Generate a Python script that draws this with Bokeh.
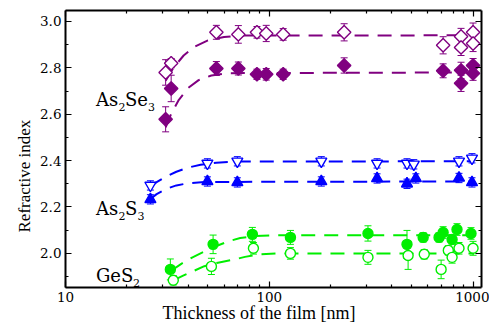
import numpy as np
from bokeh.plotting import figure
from bokeh.models import (ColumnDataSource, Whisker, TeeHead, Label, FixedTicker,
                          LogAxis, LinearAxis, PrintfTickFormatter, Title)
from bokeh.embed import file_html
from bokeh.resources import INLINE

# ---------------- data ----------------
# As2Se3
se_open_x = [31, 33, 55, 70.5, 87, 96.6, 117, 233, 713, 873, 873, 1000, 1000]
se_open_y = [2.78, 2.82, 2.953, 2.944, 2.953, 2.948, 2.944, 2.953, 2.897, 2.935, 2.888, 2.953, 2.905]
se_open_e = [0.055, 0.02, 0.03, 0.038, 0.025, 0.035, 0.025, 0.037, 0.037, 0.035, 0.035, 0.04, 0.035]
se_fill_x = [31, 33, 55, 70.5, 87, 96.6, 117, 233, 713, 873, 873, 1000, 1000]
se_fill_y = [2.578, 2.711, 2.797, 2.797, 2.772, 2.772, 2.772, 2.81, 2.787, 2.789, 2.733, 2.81, 2.776]
se_fill_e = [0.054, 0.057, 0.03, 0.028, 0.022, 0.025, 0.022, 0.033, 0.03, 0.035, 0.035, 0.03, 0.03]
# As2S3
s_open_x = [26.1, 49.7, 69.7, 180, 338, 474, 512, 853, 988]
s_open_y = [2.293, 2.388, 2.397, 2.397, 2.388, 2.388, 2.384, 2.397, 2.41]
s_open_e = [0.02, 0.02, 0.02, 0.02, 0.02, 0.02, 0.02, 0.02, 0.02]
s_fill_x = [26.1, 49.7, 69.7, 180, 338, 474, 524, 853, 988]
s_fill_y = [2.233, 2.31, 2.306, 2.31, 2.323, 2.30, 2.323, 2.325, 2.306]
s_fill_e = [0.02, 0.02, 0.02, 0.02, 0.02, 0.02, 0.02, 0.02, 0.02]
# GeS2
g_fill_x = [32.7, 53, 82.6, 127, 305, 474, 569, 681, 713, 789, 834, 977]
g_fill_y = [1.931, 2.039, 2.082, 2.069, 2.086, 2.039, 2.069, 2.069, 2.09, 2.06, 2.103, 2.086]
g_fill_e = [0.045, 0.04, 0.03, 0.03, 0.033, 0.06, 0.02, 0.02, 0.025, 0.02, 0.025, 0.025]
g_open_x = [33.8, 52, 83.6, 127, 305, 480, 576, 697, 756, 789, 853, 1000]
g_open_y = [1.884, 1.944, 2.022, 2.0, 1.983, 1.991, 1.996, 1.931, 2.013, 1.983, 2.022, 2.022]
g_open_e = [0.02, 0.035, 0.025, 0.025, 0.03, 0.06, 0.02, 0.04, 0.02, 0.025, 0.025, 0.03]

# dashed fit curves
fit_se_open_x = [31, 34, 38, 43, 50, 60, 75, 1010]
fit_se_open_y = [2.744, 2.802, 2.853, 2.891, 2.918, 2.933, 2.939, 2.94]
fit_se_fill_x = [31, 33, 36, 40, 45, 52, 62, 1010]
fit_se_fill_y = [2.543, 2.601, 2.662, 2.713, 2.747, 2.767, 2.777, 2.78]
fit_s_open_x = [26, 28, 31, 35, 40, 46, 55, 70, 1010]
fit_s_open_y = [2.287, 2.307, 2.330, 2.352, 2.370, 2.382, 2.391, 2.396, 2.397]
fit_s_fill_x = [26, 28, 31, 35, 40, 48, 1010]
fit_s_fill_y = [2.234, 2.2555, 2.277, 2.293, 2.3026, 2.308, 2.31]
fit_g_fill_x = [33, 37, 42, 48, 55, 63, 72, 85, 110, 1010]
fit_g_fill_y = [1.925, 1.955, 1.983, 2.008, 2.032, 2.052, 2.066, 2.075, 2.078, 2.078]
fit_g_open_x = [34, 38, 42, 48, 56, 66, 76, 90, 110, 1010]
fit_g_open_y = [1.885, 1.905, 1.922, 1.945, 1.96, 1.972, 1.985, 1.996, 2.0, 2.0]

x_major = [10, 100, 1000]
x_minor = [20, 30, 40, 50, 60, 70, 80, 90, 200, 300, 400, 500, 600, 700, 800, 900]
y_major = [2.0, 2.2, 2.4, 2.6, 2.8, 3.0]
y_minor = [1.9, 2.1, 2.3, 2.5, 2.7, 2.9]

PURPLE = "#800080"
BLUE = "#0000ff"
GREEN = "#00ee00"
FONT = "DejaVu Serif"

p = figure(width=489, height=324, x_axis_type="log", x_range=(10, 1100),
           y_range=(1.853, 3.047), output_backend="svg", toolbar_location=None,
           min_border_left=65, min_border_right=8, min_border_top=10,
           min_border_bottom=37)
p.outline_line_color = None
p.xgrid.visible = False
p.ygrid.visible = False
p.background_fill_color = "white"


def style_axis(ax, show_labels=True):
    ax.axis_line_width = 2
    ax.axis_line_color = "black"
    ax.major_tick_in = 6
    ax.major_tick_out = 0
    ax.minor_tick_in = 3
    ax.minor_tick_out = 0
    ax.major_tick_line_width = 1.2
    ax.minor_tick_line_width = 1.2
    ax.major_tick_line_color = "black"
    ax.minor_tick_line_color = "black"
    if show_labels:
        ax.major_label_text_font = FONT
        ax.major_label_text_font_size = "13.5px"
        ax.major_label_text_color = "black"
        ax.major_label_standoff = 4
    else:
        ax.major_label_text_font_size = "1px"
        ax.major_label_text_alpha = 0
        ax.major_label_standoff = 0


p.xaxis.ticker = FixedTicker(ticks=x_major, minor_ticks=x_minor)
p.xaxis.formatter = PrintfTickFormatter(format="%d")
p.yaxis.ticker = FixedTicker(ticks=y_major, minor_ticks=y_minor)
p.yaxis.formatter = PrintfTickFormatter(format="%.1f")
style_axis(p.xaxis[0])
style_axis(p.yaxis[0])

top = LogAxis(ticker=FixedTicker(ticks=x_major, minor_ticks=x_minor))
right = LinearAxis(ticker=FixedTicker(ticks=y_major, minor_ticks=y_minor))
style_axis(top, False)
style_axis(right, False)
p.add_layout(top, "above")
p.add_layout(right, "right")

# axis titles as Title objects (allow offsets)
TITLE_FONT = "serif"
p.add_layout(Title(text="Thickness of the film [nm]", align="left", offset=97,
                   standoff=-8, text_font=TITLE_FONT, text_font_size="18px",
                   text_font_style="normal", text_color="black"), "below")
p.add_layout(Title(text="Refractive index", align="left", offset=55,
                   standoff=8, text_font=TITLE_FONT, text_font_size="17px",
                   text_font_style="normal", text_color="black"), "left")

DASH = "14 9"
for fx, fy, c in [(fit_se_open_x, fit_se_open_y, PURPLE), (fit_se_fill_x, fit_se_fill_y, PURPLE),
                  (fit_s_open_x, fit_s_open_y, BLUE), (fit_s_fill_x, fit_s_fill_y, BLUE),
                  (fit_g_fill_x, fit_g_fill_y, GREEN), (fit_g_open_x, fit_g_open_y, GREEN)]:
    p.line(fx, fy, line_color=c, line_width=2, line_dash=DASH)


def series(xs, ys, es, color, marker, size, filled, angle=0.0):
    src = ColumnDataSource(dict(x=xs, y=ys,
                                upper=[a + b for a, b in zip(ys, es)],
                                lower=[a - b for a, b in zip(ys, es)]))
    w = Whisker(base="x", upper="upper", lower="lower", source=src, dimension="height",
                line_color=color, line_width=1,
                upper_head=TeeHead(size=7, line_color=color, line_width=1),
                lower_head=TeeHead(size=7, line_color=color, line_width=1))
    p.add_layout(w)
    p.scatter("x", "y", source=src, marker=marker, size=size, angle=angle,
              line_color=color, line_width=1.4,
              fill_color=color if filled else "white")


series(se_open_x, se_open_y, se_open_e, PURPLE, "square", 9.5, False, np.pi / 4)
series(se_fill_x, se_fill_y, se_fill_e, PURPLE, "square", 9.5, True, np.pi / 4)
series(s_open_x, s_open_y, s_open_e, BLUE, "inverted_triangle", 11, False)
series(s_fill_x, s_fill_y, s_fill_e, BLUE, "triangle", 11, True)
series(g_open_x, g_open_y, g_open_e, GREEN, "circle", 10, False)
series(g_fill_x, g_fill_y, g_fill_e, GREEN, "circle", 10, True)


def formula(xd, yd, parts):
    for txt, dx, sub in parts:
        p.add_layout(Label(x=xd, y=yd, x_offset=dx, y_offset=-8 if sub else 0, text=txt,
                           text_font=FONT, text_font_size="11px" if sub else "18px",
                           text_baseline="alphabetic", text_color="black"))


formula(14.1, 2.664, [("As", 0, False), ("2", 22.5, True), ("Se", 29, False), ("3", 52, True)])
formula(14.1, 2.194, [("As", 0, False), ("2", 22.5, True), ("S", 29, False), ("3", 41.5, True)])
formula(14.1, 1.905, [("GeS", 0, False), ("2", 37, True)])

open("out.html", "w").write(file_html(p, INLINE))
